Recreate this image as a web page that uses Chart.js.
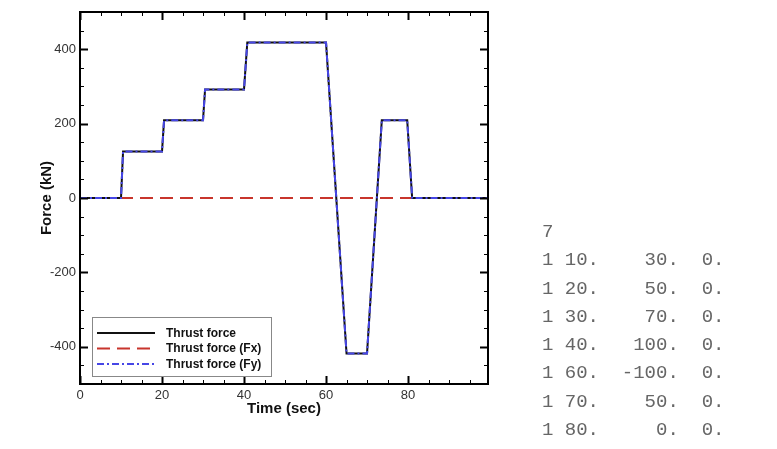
<!DOCTYPE html>
<html>
<head>
<meta charset="utf-8">
<script src="https://cdn.jsdelivr.net/npm/chart.js@4/dist/chart.umd.min.js"></script>
<style>
    html, body {
        margin: 0;
        padding: 0;
        background: #fff;
    }
    #wrap {
        position: relative;
        width: 777px;
        height: 449px;
    }
    #forceChart {
        position: absolute;
        left: 0;
        top: 0;
    }
    #inputFile {
        position: absolute;
        left: 542px;
        top: 218px;
        margin: 0;
        font-family: "Liberation Mono", monospace;
        font-size: 19px;
        line-height: 28.3px;
        color: #666;
    }
</style>
</head>
<body>
<div id="wrap">
    <canvas id="forceChart" width="777" height="449"></canvas>
    <pre id="inputFile"></pre>
</div>

<script>
// ======================
// DATA
// ======================
const seriesNames = [
    "Thrust force",
    "Thrust force (Fx)",
    "Thrust force (Fy)"
];

// time (sec) and force (kN)
const thrustTime = [0, 10, 10.5, 20, 20.5, 30, 30.5, 40, 40.8, 60, 65, 70, 73.6, 79.8, 81, 99.5];
const thrustForce = [0, 0, 125, 125, 209, 209, 292, 292, 418, 418, -418, -418, 209, 209, 0, 0];

const fxTime = [0, 99.5];
const fxForce = [0, 0];

const fyTime = thrustTime;
const fyForce = thrustForce;

const xTicks = [0, 20, 40, 60, 80];
const yTicks = [-400, -200, 0, 200, 400];

// input file shown next to the plot
const fileCount = 7;
const fileFlag = [1, 1, 1, 1, 1, 1, 1];
const fileTime = [10, 20, 30, 40, 60, 70, 80];
const fileThrust = [30, 50, 70, 100, -100, 50, 0];
const fileFx = [0, 0, 0, 0, 0, 0, 0];

let lines = [String(fileCount)];
fileTime.forEach((t, i) => {
    lines.push(
        fileFlag[i] + " " +
        (t + ".").padEnd(3) +
        (fileThrust[i] + ".").padStart(7) +
        (fileFx[i] + ".").padStart(4)
    );
});
document.getElementById("inputFile").textContent = lines.join("\n");

function toPoints(xs, ys) {
    return xs.map((x, i) => ({ x: x, y: ys[i] }));
}

const styles = [
    { color: "#111111", dash: [], width: 2 },
    { color: "#c8352c", dash: [13, 7], width: 2.2 },
    { color: "#4646e6", dash: [7, 3, 2, 3], width: 2 }
];

// ======================
// FRAME, TICKS, LEGEND
// ======================
const tecplotLook = {
    id: "tecplotLook",
    afterDatasetsDraw(chart) {
        const ctx = chart.ctx;
        const a = chart.chartArea;
        const xs = chart.scales.x;
        const ys = chart.scales.y;

        ctx.save();
        ctx.strokeStyle = "#000";

        // inward ticks on all four sides
        for (let v = 0; v <= xs.max; v += 5) {
            const px = Math.round(xs.getPixelForValue(v)) + 0.5;
            const major = v % 20 === 0;
            const len = major ? 8 : 4;
            ctx.lineWidth = major ? 2 : 1;
            ctx.beginPath();
            ctx.moveTo(px, a.bottom);
            ctx.lineTo(px, a.bottom - len);
            ctx.moveTo(px, a.top);
            ctx.lineTo(px, a.top + len);
            ctx.stroke();
        }
        for (let v = -450; v <= 450; v += 50) {
            const py = Math.round(ys.getPixelForValue(v)) + 0.5;
            const major = v % 200 === 0;
            const len = major ? 8 : 4;
            ctx.lineWidth = major ? 2 : 1;
            ctx.beginPath();
            ctx.moveTo(a.left, py);
            ctx.lineTo(a.left + len, py);
            ctx.moveTo(a.right, py);
            ctx.lineTo(a.right - len, py);
            ctx.stroke();
        }

        // frame
        ctx.lineWidth = 2;
        ctx.strokeRect(a.left, a.top, a.right - a.left, a.bottom - a.top);

        // legend box
        const lx = 92, ly = 317, lw = 179, lh = 59;
        ctx.fillStyle = "#fff";
        ctx.fillRect(lx, ly, lw, lh);
        ctx.lineWidth = 1;
        ctx.strokeStyle = "#888";
        ctx.strokeRect(lx + 0.5, ly + 0.5, lw, lh);

        ctx.font = "bold 12px 'Liberation Sans', Arial, sans-serif";
        ctx.textBaseline = "middle";
        ctx.textAlign = "left";
        seriesNames.forEach((name, i) => {
            const rowY = 333 + i * 15.5;
            const s = styles[i];
            ctx.strokeStyle = s.color;
            ctx.lineWidth = s.width;
            ctx.setLineDash(s.dash);
            ctx.beginPath();
            ctx.moveTo(97, rowY);
            ctx.lineTo(155, rowY);
            ctx.stroke();
            ctx.setLineDash([]);
            ctx.fillStyle = "#111";
            ctx.fillText(name, 166, rowY + 0.5);
        });

        // axis titles
        ctx.fillStyle = "#111";
        ctx.font = "bold 15px 'Liberation Sans', Arial, sans-serif";
        ctx.textAlign = "center";
        ctx.fillText("Time (sec)", (a.left + a.right) / 2, 409);

        ctx.translate(47, (a.top + a.bottom) / 2);
        ctx.rotate(-Math.PI / 2);
        ctx.fillText("Force (kN)", 0, 0);

        ctx.restore();
    }
};

// ======================
// CHART
// ======================
new Chart(
    document.getElementById("forceChart"),
    {
        type: "line",

        data: {
            datasets: [
                {
                    label: seriesNames[0],
                    data: toPoints(thrustTime, thrustForce),
                    borderColor: styles[0].color,
                    borderWidth: styles[0].width,
                    borderDash: styles[0].dash,
                    order: 2
                },
                {
                    label: seriesNames[1],
                    data: toPoints(fxTime, fxForce),
                    borderColor: styles[1].color,
                    borderWidth: styles[1].width,
                    borderDash: styles[1].dash,
                    order: 3
                },
                {
                    label: seriesNames[2],
                    data: toPoints(fyTime, fyForce),
                    borderColor: styles[2].color,
                    borderWidth: styles[2].width,
                    borderDash: styles[2].dash,
                    order: 1
                }
            ]
        },

        options: {
            responsive: false,
            animation: false,
            parsing: false,
            elements: {
                point: { radius: 0 },
                line: { tension: 0, fill: false }
            },
            layout: {
                padding: { left: 0, top: 12, right: 289, bottom: 0 }
            },

            plugins: {
                legend: { display: false },
                tooltip: { enabled: false }
            },

            scales: {
                x: {
                    type: "linear",
                    min: 0,
                    max: 99.5,
                    grid: { display: false, drawTicks: false, tickLength: 0 },
                    border: { display: false },
                    afterFit: s => { s.height = 65; },
                    afterBuildTicks: s => {
                        s.ticks = xTicks.map(v => ({ value: v }));
                    },
                    ticks: {
                        padding: 4,
                        maxRotation: 0,
                        color: "#333",
                        font: { family: "'Liberation Sans', Arial, sans-serif", size: 13 }
                    }
                },
                y: {
                    type: "linear",
                    min: -500,
                    max: 500,
                    grid: { display: false, drawTicks: false, tickLength: 0 },
                    border: { display: false },
                    afterFit: s => { s.width = 80; },
                    afterBuildTicks: s => {
                        s.ticks = yTicks.map(v => ({ value: v }));
                    },
                    ticks: {
                        padding: 4,
                        color: "#333",
                        font: { family: "'Liberation Sans', Arial, sans-serif", size: 13 }
                    }
                }
            }
        },

        plugins: [tecplotLook]
    }
);
</script>
</body>
</html>
